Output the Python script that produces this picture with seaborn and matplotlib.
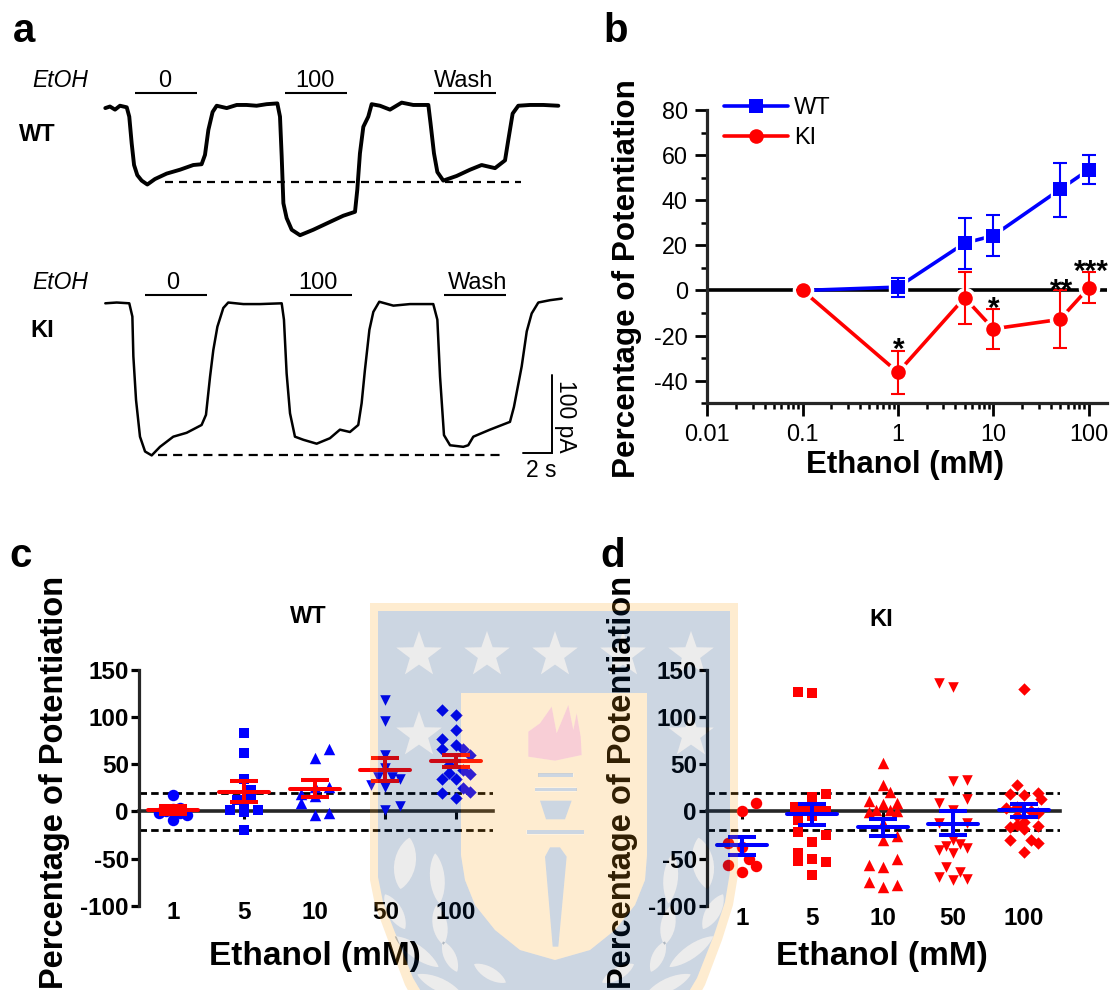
import numpy as np
import pandas as pd
import matplotlib
matplotlib.use("Agg")
import matplotlib.pyplot as plt
from matplotlib.path import Path
from matplotlib.patches import PathPatch
from matplotlib.lines import Line2D
import seaborn as sns

# ---------------- data ----------------
# panel a: traces (time s, current pA relative to baseline)
wt_trace_t = [0,.33,.69,1.04,1.52,1.70,1.87,2.04,2.27,2.58,2.98,3.52,4.35,5.30,6.24,6.83,7.07,7.31,7.61,7.90,8.61,9.32,10.02,10.73,11.44,12.20,12.39,12.51,12.63,12.86,13.22,13.81,14.75,15.93,16.88,17.71,17.87,18.06,18.30,18.65,18.89,19.48,20.19,21.02,21.84,22.91,23.07,23.31,23.55,23.97,24.92,25.87,26.69,27.64,28.35,28.58,28.89,29.29,30.12,31.07,32.13]
wt_trace_i = [-1,1,-3,2,0,-12,-46,-74,-87,-94,-99,-92,-85,-80,-74,-73,-61,-29,-6,2,-1,3,3,2,4,5,-12,-63,-123,-142,-157,-164,-157,-147,-139,-134,-106,-59,-25,-12,4,2,-3,6,3,3,-21,-59,-83,-94,-88,-80,-74,-78,-68,-42,-8,2,3,3,2]
ki_trace_t = [0,.81,1.70,1.92,1.99,2.18,2.46,2.82,3.29,3.88,4.82,5.77,6.83,7.14,7.43,7.66,7.95,8.37,8.72,9.79,10.97,12.51,12.67,12.86,13.10,13.45,14.05,14.99,15.93,16.64,17.35,17.94,18.18,18.41,18.73,19.01,19.43,20.43,21.61,23.26,23.55,23.74,24.02,24.45,25.39,25.74,26.10,27.28,28.70,28.98,29.53,29.89,30.24,30.71,31.54,32.37]
ki_trace_i = [0,1,0,-17,-68,-124,-171,-190,-195,-184,-171,-166,-156,-143,-94,-60,-30,-6,1,-1,-1,0,-21,-90,-141,-171,-175,-180,-173,-162,-165,-156,-128,-86,-34,-11,2,-3,-1,-1,-21,-94,-169,-182,-184,-182,-171,-162,-152,-133,-81,-36,-13,1,4,6]

# panel b: dose-response, mean with SEM limits
doses_b = [0.1, 1, 5, 10, 50, 100]
wt_mean = [0, 1.5, 21, 24.3, 44.8, 53.5]
wt_upper = [0, 5.5, 32, 33.5, 56.4, 60]
wt_lower = [0, -3, 9.5, 15.5, 32.5, 47]
ki_mean = [0, -36.3, -3.2, -17, -12.8, 1.2]
ki_upper = [0, -26.8, 8.2, -8, 0, 8.2]
ki_lower = [0, -46, -14.8, -26, -25.6, -5.6]
star_labels = ["*", "*", "**", "***"]
star_x = [1.03, 10.2, 52, 106]
star_y = [-29.9, -11.7, -3.8, 4.6]

# panels c, d: individual cells
dose_labels = ["1", "5", "10", "50", "100"]
wt_1 = [17, -2, 4, -9, -4, 3, 0, -2]
wt_1_col = [0, -1, .5, 0, 1, 0, -.5, .5]
wt_5 = [83, 62, 34, 23, 16, 12, 7, 2, 2, -1, -20]
wt_5_col = [0, 0, 0, .5, .5, -.5, 0, -1, 1, 0, 0]
wt_10 = [66, 57, 26, 26, 19, 16, 9, -4, -2]
wt_10_col = [1, 0, 1, 0, -1, 0, -1, 0, 1]
wt_50 = [118, 96, 60, 46, 37, 36, 34, 28, 26, 6, 1]
wt_50_col = [0, 0, 0, 0, .5, -.5, 1, -1, 0, 1, 0]
wt_100 = [108, 102, 86, 77, 70, 66, 66, 60, 49, 44, 41, 40, 34, 34, 25, 21, 20, 14]
wt_100_col = [-1, 0, 0, -1, 0, -1, .5, 1, -.5, .5, -.5, 1, 0, -1, .5, 1, -1, 0]
ki_1 = [9, 0, -33, -38, -50, -57, -58, -64]
ki_1_col = [1, 0, -1, 0, .5, -1, 1, 0]
ki_5 = [127, 126, 18, 15, 5, 2, 0, 0, -5, -9, -22, -25, -32, -44, -50, -53, -54, -67]
ki_5_col = [-1, 0, 1, 0, -1.25, -.5, 1, .5, 0, -1, -1, 1, 0, -1, 0, -1, 1, 0]
ki_10 = [51, 28, 21, 11, 9, 8, 2, 1, 0, -1, -12, -26, -30, -50, -57, -59, -75, -78, -80]
ki_10_col = [0, 0, .5, -1, 1, 0, .5, -.5, 1, -1, 0, 1, 0, 1, -1, 0, -1, 1, 0]
ki_50 = [136, 132, 33, 32, 13, 9, 2, -12, -12, -30, -35, -37, -39, -41, -44, -59, -64, -70, -72, -73]
ki_50_col = [-1, 0, 1, 0, 1, -1, 0, -1, 1, 0, .5, -.5, 1, -1, 0, -.5, .5, -1, 1, 0]
ki_100 = [130, 28, 20, 18, 17, 13, 5, 4, 0, -2, -5, -11, -14, -15, -17, -19, -30, -30, -34, -43]
ki_100_col = [0, -.5, 1, -1, 0, 1.25, -.5, -1.25, .5, 1, -.5, 0, -.5, 1, -1, 0, -1, .5, 1, 0]
wt_summary_mean = [1.5, 21, 24, 44, 53]
wt_summary_hi = [6, 32, 33.5, 56.5, 60]
wt_summary_lo = [-3, 10, 15.5, 32.5, 47]
ki_summary_mean = [-36, -3, -17, -13, 1]
ki_summary_hi = [-27, 8, -8, 0, 8]
ki_summary_lo = [-46, -14.5, -26, -25.5, -5.5]

W, H = 1115, 990
BLUE, RED = "#0000ff", "#ff0000"

sns.set_theme(style="ticks")
plt.rcParams["font.family"] = ["Liberation Sans", "DejaVu Sans"]
plt.rcParams["axes.linewidth"] = 2.3
plt.rcParams["axes.unicode_minus"] = False
fig = plt.figure(figsize=(W / 100, H / 100), dpi=100, facecolor="white")


def px_axes(l, t, r, b, **kw):
    return fig.add_axes([l / W, 1 - b / H, (r - l) / W, (b - t) / H], **kw)


# ---------------- panel a ----------------
page = px_axes(0, 0, W, H, zorder=0)
page.set_xlim(0, W)
page.set_ylim(H, 0)
page.axis("off")


def trace_axes(t0, i0):
    ax = px_axes(100, 50, 575, 470, zorder=1)
    ax.patch.set_alpha(0)
    ax.set_xlim((100 - t0) / 14.1, (575 - t0) / 14.1)
    ax.set_ylim((i0 - 470) / 0.78, (i0 - 50) / 0.78)
    ax.axis("off")
    return ax


ax_wt = trace_axes(105.3, 107.3)
sns.lineplot(x=wt_trace_t, y=wt_trace_i, sort=False, estimator=None, color="black", lw=2.8, ax=ax_wt)
ax_ki = trace_axes(105.3, 303.3)
sns.lineplot(x=ki_trace_t, y=ki_trace_i, sort=False, estimator=None, color="black", lw=1.8, ax=ax_ki)

page.plot([165, 521], [181.7, 181.7], color="black", lw=1.6, dashes=(3.6, 2.7))
page.plot([158, 500], [455, 455], color="black", lw=1.6, dashes=(4.1, 2.7))
for y_bar, y_txt, labels in [
    (92.5, 87.3, [(135.3, 197.4, 164.3, "0"), (285, 346.6, 315, "100"), (434, 496, 464, "Wash")]),
    (295, 289, [(145, 207, 173, "0"), (290, 351.5, 317.7, "100"), (444, 505.6, 477.4, "Wash")]),
]:
    for x0, x1, xc, s in labels:
        page.plot([x0, x1], [y_bar, y_bar], color="black", lw=1.5, solid_capstyle="butt")
        page.text(xc, y_txt, s, fontsize=17, ha="center", va="baseline", color="black")
    page.text(32.7, y_txt, "EtOH", fontsize=16.5, style="italic", ha="left", va="baseline", color="black")
page.text(19, 140.7, "WT", fontsize=17, weight="bold", va="baseline", color="black")
page.text(30, 336.7, "KI", fontsize=17, weight="bold", va="baseline", color="black")
page.plot([522.6, 551.5, 551.5], [453, 453, 375], color="black", lw=1.4, solid_joinstyle="miter")
page.text(541, 476.7, "2 s", fontsize=16.5, ha="center", va="baseline", color="black")
page.text(565, 416, "100 pA", fontsize=16.5, rotation=270, ha="center", va="center", color="black")
for s, x, y in [("a", 13, 41.7), ("b", 603, 41.7), ("c", 9, 566.7), ("d", 600, 566.7)]:
    page.text(x, y, s, fontsize=29, weight="bold", va="baseline", color="black")

# ---------------- panel b ----------------
axb = px_axes(707.3, 110, 1106.7, 403.3, zorder=2)
axb.patch.set_alpha(0)
axb.set_xscale("log")
axb.set_xlim(0.01, 154.6)
axb.set_ylim(-50, 80)
sns.despine(ax=axb)
axb.axhline(0, color="black", lw=2.6, zorder=1)


def dose_line(mean, upper, lower, color, marker, ms, z):
    sns.lineplot(x=doses_b, y=mean, color=color, lw=2.6, ax=axb, zorder=z, estimator=None)
    axb.plot(doses_b, mean, ls="none", marker=marker, ms=ms + 4, color="white", zorder=z + .1)
    m, u, l = map(np.array, (mean, upper, lower))
    axb.errorbar(doses_b, mean, yerr=[m - l, u - m], fmt="none", ecolor=color, elinewidth=1.5,
                 capsize=5, capthick=1.5, zorder=z + .2)
    axb.plot(doses_b, mean, ls="none", marker=marker, ms=ms, color=color, mew=0, zorder=z + .3)


dose_line(wt_mean, wt_upper, wt_lower, BLUE, "s", 9.5, 3)
dose_line(ki_mean, ki_upper, ki_lower, RED, "o", 10.5, 4)
axb.set_yticks(range(-40, 81, 20))
axb.set_yticks(range(-50, 81, 10), minor=True)
axb.set_xticks([0.01, 0.1, 1, 10, 100])
axb.set_xticklabels(["0.01", "0.1", "1", "10", "100"])
axb.xaxis.set_minor_locator(matplotlib.ticker.LogLocator(base=10, subs=np.arange(2, 10), numticks=12))
axb.xaxis.set_minor_formatter(matplotlib.ticker.NullFormatter())
axb.tick_params(axis="both", which="major", length=9, width=2, labelsize=16.8, pad=5, colors="black")
axb.tick_params(axis="both", which="minor", length=4.5, width=1.8, colors="black")
axb.set_xlabel("Ethanol (mM)", fontsize=22.5, weight="bold", color="black")
axb.xaxis.set_label_coords((905 - 707.3) / 399.4, -(450 - 403.3) / 293.3)
axb.xaxis.label.set_verticalalignment("top")
axb.set_ylabel("Percentage of Potentiation", fontsize=22.6, weight="bold", color="black")
axb.yaxis.set_label_coords(-(707.3 - 642) / 399.4, (403.3 - 279) / 293.3)
for s, x, y in zip(star_labels, star_x, star_y):
    axb.text(x, y, s, fontsize=21.5, weight="bold", ha="center", va="baseline", color="black", zorder=6)
handles = [
    Line2D([], [], color=BLUE, lw=2.6, marker="s", ms=9.5, mew=0),
    Line2D([], [], color=RED, lw=2.6, marker="o", ms=10.5, mew=0),
]
axb.legend(handles, ["WT", "KI"], loc="upper left", bbox_to_anchor=((724 - 707.3) / 399.4, (403.3 - 97) / 293.3),
           frameon=False, fontsize=17, handlelength=2.7, handletextpad=0.25, labelspacing=0.33, borderaxespad=0,
           borderpad=0, labelcolor="black")

# ---------------- panels c, d ----------------
marker_map = {"1": "o", "5": "s", "10": "^", "50": "v", "100": "D"}
size_map = {"1": 68, "5": 60, "10": 68, "50": 58, "100": 40}


def scatter_panel(left, right, zero_px, step, series, cols, color, bar_color, means, his, los, label_pad,
                  title, title_x, title_y, lab_x, xlab_x):
    ax = px_axes(left, 670, right, 905.7, zorder=2)
    ax.patch.set_alpha(0)
    ax.set_xlim((left - zero_px) / step, (right - zero_px) / step)
    ax.set_ylim(-100, 150)
    rows = []
    for i, (lab, vals, col) in enumerate(zip(dose_labels, series, cols)):
        for v, c in zip(vals, col):
            rows.append({"dose": lab, "pos": i + c * 0.2, "value": v})
    df = pd.DataFrame(rows)
    for lab in dose_labels:
        sns.scatterplot(data=df[df["dose"] == lab], x="pos", y="value", marker=marker_map[lab],
                        s=size_map[lab], color=color, linewidth=0, ax=ax, zorder=3, legend=False, clip_on=False)
    ax.axhline(20, color="black", lw=2.0, dashes=(2.7, 1.5), zorder=2)
    ax.axhline(-20, color="black", lw=2.0, dashes=(2.7, 1.5), zorder=2)
    ax.spines["top"].set_visible(False)
    ax.spines["right"].set_visible(False)
    ax.spines["bottom"].set_position(("data", 0))
    ax.spines["bottom"].set_linewidth(2.6)
    ax.spines["bottom"].set_zorder(2.5)
    x = np.arange(5)
    m, hi, lo = map(np.array, (means, his, los))
    ax.hlines(m, x - 0.354, x + 0.354, color=bar_color, lw=2.9, zorder=5, capstyle="round")
    ax.errorbar(x, m, yerr=[m - lo, hi - m], fmt="none", ecolor=bar_color, elinewidth=2.9, capsize=10,
                capthick=2.9, zorder=5)
    ax.set_yticks(range(-100, 151, 50))
    ax.set_xticks(x)
    ax.set_xticklabels(dose_labels)
    for t in ax.get_xticklabels() + ax.get_yticklabels():
        t.set_fontweight("bold")
    ax.tick_params(axis="y", length=6, width=2.3, labelsize=17.5, pad=1, colors="black")
    ax.tick_params(axis="x", length=5.5, width=2.2, labelsize=17.5, pad=label_pad, colors="black")
    ax.set_xlabel("Ethanol (mM)", fontsize=24, weight="bold", color="black")
    ax.xaxis.set_label_coords((xlab_x - left) / (right - left), -(941 - 905.7) / 235.7)
    ax.xaxis.label.set_verticalalignment("top")
    ax.set_ylabel("Percentage of Potentiation", fontsize=23.5, weight="bold", color="black")
    ax.yaxis.set_label_coords(-(left - lab_x) / (right - left), (905.7 - 782) / 235.7)
    page.text(title_x, title_y, title, fontsize=17, weight="bold", ha="center", va="baseline", color="black")


scatter_panel(138.5, 493, 173.3, 70.7, [wt_1, wt_5, wt_10, wt_50, wt_100],
              [wt_1_col, wt_5_col, wt_10_col, wt_50_col, wt_100_col], BLUE, RED,
              wt_summary_mean, wt_summary_hi, wt_summary_lo, 59, "WT", 308, 623, 70, 315)
scatter_panel(706.7, 1060, 741.7, 70.5, [ki_1, ki_5, ki_10, ki_50, ki_100],
              [ki_1_col, ki_5_col, ki_10_col, ki_50_col, ki_100_col], RED, BLUE,
              ki_summary_mean, ki_summary_hi, ki_summary_lo, 63, "KI", 881, 626, 638, 882)

# ---------------- background crest (semi-transparent overlay) ----------------
crest = px_axes(0, 0, W, H, zorder=10)
crest.set_xlim(0, W)
crest.set_ylim(H, 0)
crest.axis("off")
crest.patch.set_alpha(0)


def oriented(pts, ccw=True):
    p = np.asarray(pts, float)
    area = 0.5 * np.sum(p[:, 0] * np.roll(p[:, 1], -1) - np.roll(p[:, 0], -1) * p[:, 1])
    if (area > 0) != ccw:
        p = p[::-1]
    return p


def compound(outer, holes=()):
    o0 = oriented(outer, True)
    paths = [Path(np.vstack([o0, o0[0]]), closed=True)]
    for h in holes:
        o = oriented(h, False)
        paths.append(Path(np.vstack([o, o[0]]), closed=True))
    return Path.make_compound_path(*paths)


def z(pts):
    return [(360 + x / 3, 590 + y / 3) for x, y in pts]


def star(cx, cy, r=24):
    ang = np.deg2rad(np.arange(0, 360, 36) - 90)
    rad = np.where(np.arange(10) % 2 == 0, r, r * 0.4)
    return list(zip(cx + rad * np.cos(ang), cy + rad * np.sin(ang)))


def leaf(cx, cy, a, b, rot):
    th = np.linspace(0, 2 * np.pi, 28, endpoint=False)
    r = np.deg2rad(rot)
    xs = a * np.sign(np.cos(th)) * np.abs(np.cos(th)) ** 1.6
    ys = b * np.sin(th)
    return list(zip(360 + (cx + xs * np.cos(r) - ys * np.sin(r)) / 3, 590 + (cy + xs * np.sin(r) + ys * np.cos(r)) / 3))


outer = [(370, 603), (738, 603), (738, 875), (733, 905), (722, 940), (705, 985), (680, 1030), (555, 1060), (430, 1030), (405, 985), (388, 940), (375, 905), (370, 880)]
inner = [(378, 611), (730, 611), (730, 872), (725, 902), (714, 935), (697, 978), (672, 1020), (555, 1050), (438, 1020), (413, 978), (396, 935), (383, 902), (378, 877)]
panel = [(461, 693), (647, 693), (647, 855), (645, 880), (635, 905), (615, 930), (590, 950), (555, 960), (520, 950), (495, 930), (475, 905), (465, 880), (461, 855)]
stars = [star(x, 655) for x in (419, 487, 555, 623, 691)] + [star(419, 735), star(691, 735)]
flame = z([(505, 500), (505, 425), (540, 400), (575, 350), (590, 430), (625, 345), (640, 420), (650, 370), (662, 440), (665, 495), (585, 512)])
torch = [z([(535, 550), (640, 550), (640, 561), (535, 561)]),
         z([(525, 593), (650, 593), (650, 604), (525, 604)]),
         z([(540, 632), (635, 632), (615, 688), (558, 688)]),
         z([(500, 720), (672, 720), (672, 733), (500, 733)]),
         z([(555, 800), (570, 772), (600, 772), (620, 800), (595, 1070), (578, 1070)])]
leaves = []
for cx, cy, a, b, rot in [(135, 820, 32, 78, 10), (232, 865, 22, 75, -5), (105, 965, 22, 60, -30), (240, 1005, 22, 60, -10),
                          (170, 1085, 20, 80, -55), (270, 1100, 18, 50, -25), (240, 1185, 20, 75, -65), (390, 1150, 18, 55, -60)]:
    leaves.append(leaf(cx, cy, a, b, rot))
    leaves.append(leaf(1164 - cx, cy, a, b, -rot))

GOLD = (250 / 255, 160 / 255, 20 / 255, 0.2)
NAVY = (0, 50 / 255, 110 / 255, 0.2)
GREY = (0, 0, 0, 0.075)
PINK = (230 / 255, 60 / 255, 95 / 255, 0.25)
crest.add_patch(PathPatch(compound(outer, [inner]), fc=GOLD, lw=0))
crest.add_patch(PathPatch(compound(inner, [panel] + stars + leaves), fc=NAVY, lw=0))
crest.add_patch(PathPatch(compound(panel, [flame] + torch), fc=GOLD, lw=0))
for s in stars + leaves:
    crest.add_patch(PathPatch(compound(s), fc=GREY, lw=0))
crest.add_patch(PathPatch(compound(flame), fc=PINK, lw=0))
for t in torch:
    crest.add_patch(PathPatch(compound(t), fc=NAVY, lw=0))

fig.savefig("out.png", dpi=100, facecolor="white")
